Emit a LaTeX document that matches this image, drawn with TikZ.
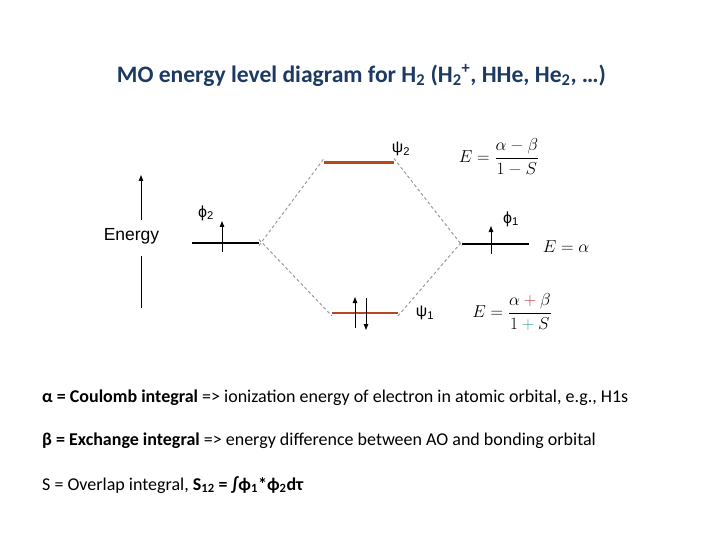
\documentclass[tikz,border=0pt]{standalone}
\usepackage{amsmath}
\usepackage{fontspec}
\setmainfont{Carlito}
\newfontfamily\arialfont{Liberation Sans}
\usetikzlibrary{arrows.meta}
\definecolor{titleblue}{HTML}{1C3A62}
\definecolor{molevel}{HTML}{B8481C}
\definecolor{dashgray}{HTML}{9A9A9A}
\definecolor{minuscol}{HTML}{3A4680}
\definecolor{pluscolr}{HTML}{C8304A}
\definecolor{pluscolg}{HTML}{3AA0A0}
\begin{document}
\begin{tikzpicture}[x=1pt,y=-1pt,
  aolevel/.style={line width=2pt,black},
  molev/.style={line width=2.2pt,molevel},
  corr/.style={dashgray,line width=1pt,dash pattern=on 3pt off 2.5pt},
  elec/.style={line width=1pt,-{Triangle[length=6pt,width=4.5pt]}},
  lbl/.style={font=\arialfont\fontsize{16}{18}\selectfont,inner sep=0pt},
  eqn/.style={font=\fontsize{17}{20}\selectfont,inner sep=0pt},
  body/.style={font=\fontsize{18}{21}\selectfont,anchor=west,inner sep=0pt}]
\useasboundingbox (0,0) rectangle (720,540);
% title
\node[font=\bfseries\fontsize{23.6}{28}\selectfont,text=titleblue,inner sep=0pt] (title) at (361.5,75)
  {MO energy level diagram for H\textsubscript{2} (H\textsubscript{2}\textsuperscript{+}, HHe, He\textsubscript{2}, \ldots)};
% energy axis
\node[font=\arialfont\fontsize{17.5}{20}\selectfont,inner sep=0pt] (energy) at (131.5,236.5) {Energy};
\coordinate (ebot) at (141,308);
\coordinate (ebotend) at (141,256);
\coordinate (etopstart) at (141,220);
\coordinate (etop) at (141,175);
\draw[line width=1pt] (ebot) -- (ebotend);
\draw[line width=1pt,-{Triangle[length=6pt,width=4.5pt]}] (etopstart) -- (etop);
% levels
\coordinate (aoLl) at (192,242.5); \coordinate (aoLr) at (259,242.5);
\coordinate (aoRl) at (462,243.5); \coordinate (aoRr) at (529,243.5);
\coordinate (psiTl) at (324,162.5); \coordinate (psiTr) at (394,162.5);
\coordinate (psiBl) at (332,313); \coordinate (psiBr) at (398,313);
\draw[aolevel] (aoLl) -- (aoLr);
\draw[aolevel] (aoRl) -- (aoRr);
\draw[molev] (psiTl) -- (psiTr);
\draw[molev] (psiBl) -- (psiBr);
% correlation lines
\draw[corr] ([yshift=-3pt]aoLr) -- ([yshift=4pt]psiTl);
\draw[corr] ([yshift=3pt]aoLr) -- ([yshift=-3pt]psiBl);
\draw[corr] ([yshift=4pt]psiTr) -- ([yshift=-2pt]aoRl);
\draw[corr] ([yshift=-3pt]psiBr) -- ([yshift=2pt]aoRl);
% electrons
\coordinate (e1s) at (222,252); \coordinate (e1e) at (222,221);
\coordinate (e2s) at (491,254); \coordinate (e2e) at (491,226);
\coordinate (e3s) at (355,328); \coordinate (e3e) at (355,297);
\coordinate (e4s) at (366,298); \coordinate (e4e) at (366,330);
\draw[elec] (e1s) -- (e1e);
\draw[elec] (e2s) -- (e2e);
\draw[elec] (e3s) -- (e3e);
\draw[elec] (e4s) -- (e4e);
% labels
\node[lbl] (phi2) at (206,213) {ϕ\textsubscript{2}};
\node[lbl] (phi1) at (511,219) {ϕ\textsubscript{1}};
\node[lbl] (psi2) at (401,149) {ψ\textsubscript{2}};
\node[lbl] (psi1) at (425,313) {ψ\textsubscript{1}};
% equations
\node[eqn] (eqT) at (499,157) {$E=\dfrac{\alpha\mathbin{\color{minuscol}-}\beta}{1\mathbin{\color{minuscol}-}S}$};
\node[eqn] (eqM) at (566,246.5) {$E=\alpha$};
\node[eqn] (eqB) at (512,312) {$E=\dfrac{\alpha\mathbin{\color{pluscolr}+}\beta}{1\mathbin{\color{pluscolg}+}S}$};
% body text
\node[body] (l1) at (42,398) {\textbf{α = Coulomb integral} => ionization energy of electron in atomic orbital, e.g., H1s};
\node[body] (l2) at (42,441) {\textbf{β = Exchange integral} => energy difference between AO and bonding orbital};
\node[body] (l3) at (42,485) {S = Overlap integral, \textbf{S\textsubscript{12} = ∫ϕ\textsubscript{1}*ϕ\textsubscript{2}dτ}};
\end{tikzpicture}
\end{document}
